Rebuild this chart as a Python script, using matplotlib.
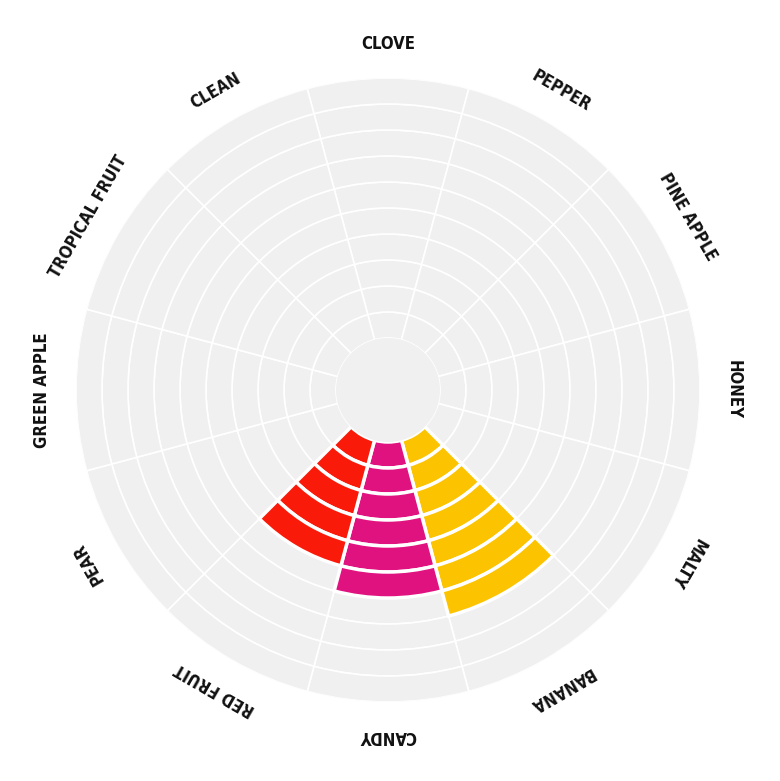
import numpy as np
import matplotlib
matplotlib.use("Agg")
import matplotlib.pyplot as plt

categories = ["CLOVE", "PEPPER", "PINE APPLE", "HONEY", "MALTY", "BANANA",
              "CANDY", "RED FRUIT", "PEAR", "GREEN APPLE", "TROPICAL FRUIT", "CLEAN"]
values = [0, 0, 0, 0, 0, 7, 6, 5, 0, 0, 0, 0]
colors = {"BANANA": "#fcc400", "CANDY": "#e0127f", "RED FRUIT": "#fa1a0a"}
levels = 10
hole = 2.0

fig = plt.figure(figsize=(7.8, 7.81), dpi=100)
ax = fig.add_axes([388/780 - 312/780, 1 - 390/781 - 312/781, 624/780, 624/781], projection="polar")
ax.set_theta_zero_location("N")
ax.set_theta_direction(-1)
n = len(categories)
w = 2*np.pi/n
thetas = np.arange(n)*w
for i, (cat, v) in enumerate(zip(categories, values)):
    for k in range(levels):
        filled = k < v
        c = colors.get(cat, "#f0f0f0") if filled else "#f0f0f0"
        ax.bar(thetas[i], 1, width=w, bottom=hole + k, color=c, edgecolor="white",
               linewidth=2.5 if filled else 1.2, zorder=3 if filled else 2)
ax.bar(0, hole, width=2*np.pi, bottom=0, color="#f0f0f0", linewidth=0, zorder=4)
ax.set_ylim(0, hole + levels)
ax.set_axis_off()

for i, cat in enumerate(categories):
    deg = np.degrees(thetas[i])
    ax.text(thetas[i], hole + levels + 1.3, cat, rotation=-deg, rotation_mode="anchor",
            ha="center", va="center", fontsize=12, fontweight="bold", color="#111111",
            family="DejaVu Sans", stretch="condensed")

fig.savefig("out.png", dpi=100, facecolor="white")
